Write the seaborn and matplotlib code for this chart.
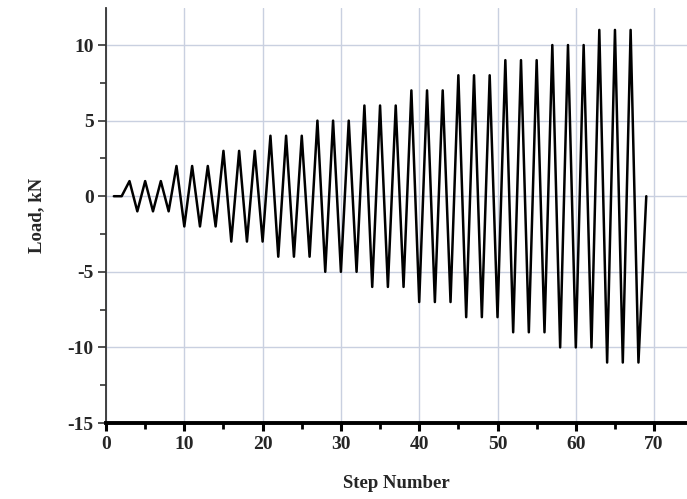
import matplotlib
matplotlib.use("Agg")
import matplotlib.pyplot as plt
from matplotlib.ticker import MultipleLocator
import seaborn as sns
import pandas as pd

step = list(range(1, 70))
load = [0, 0,
        1, -1, 1, -1, 1, -1,
        2, -2, 2, -2, 2, -2,
        3, -3, 3, -3, 3, -3,
        4, -4, 4, -4, 4, -4,
        5, -5, 5, -5, 5, -5,
        6, -6, 6, -6, 6, -6,
        7, -7, 7, -7, 7, -7,
        8, -8, 8, -8, 8, -8,
        9, -9, 9, -9, 9, -9,
        10, -10, 10, -10, 10, -10,
        11, -11, 11, -11, 11, -11,
        0]
x_ticks = [0, 10, 20, 30, 40, 50, 60, 70]
y_ticks = [-15, -10, -5, 0, 5, 10]

df = pd.DataFrame({"Step Number": step, "Load, kN": load})

sns.set_theme(style="white")
plt.rcParams["font.family"] = ["Liberation Serif", "DejaVu Serif"]
plt.rcParams["font.weight"] = "bold"
plt.rcParams["axes.unicode_minus"] = False

fig = plt.figure(figsize=(6.87, 4.99), dpi=100)
ax = fig.add_axes([0.1543, 0.1523, 0.8457, 0.8317])

sns.lineplot(data=df, x="Step Number", y="Load, kN", ax=ax, color="black",
             linewidth=1.8, estimator=None, sort=False)

ax.set_xlim(0, 74.2)
ax.set_ylim(-15, 12.45)
ax.set_xticks(x_ticks)
ax.set_yticks(y_ticks)
ax.xaxis.set_minor_locator(MultipleLocator(5))
ax.yaxis.set_minor_locator(MultipleLocator(2.5))

ax.grid(True, which="major", color="#c9d0e0", linewidth=1.0)
ax.set_axisbelow(True)

for s in ["top", "right"]:
    ax.spines[s].set_visible(False)
ax.spines["left"].set_color("#333333")
ax.spines["left"].set_linewidth(1.3)
ax.spines["bottom"].set_color("black")
ax.spines["bottom"].set_linewidth(2.8)

ax.tick_params(axis="x", which="major", direction="out", length=6, width=2.2,
               color="black", bottom=True, labelsize=14, pad=3)
ax.tick_params(axis="x", which="minor", direction="out", length=4, width=2.0,
               color="black", bottom=True)
ax.tick_params(axis="y", which="major", direction="out", length=6, width=1.2,
               color="#333333", left=True, labelsize=14, pad=3)
ax.tick_params(axis="y", which="minor", direction="out", length=4, width=1.2,
               color="#333333", left=True)
for lab in ax.get_xticklabels() + ax.get_yticklabels():
    lab.set_fontweight("bold")

ax.set_xlabel("Step Number", fontsize=13.5, fontweight="bold", labelpad=16)
ax.set_ylabel("Load, kN", fontsize=13.5, fontweight="bold", labelpad=16)

fig.savefig("out.png", dpi=100)
